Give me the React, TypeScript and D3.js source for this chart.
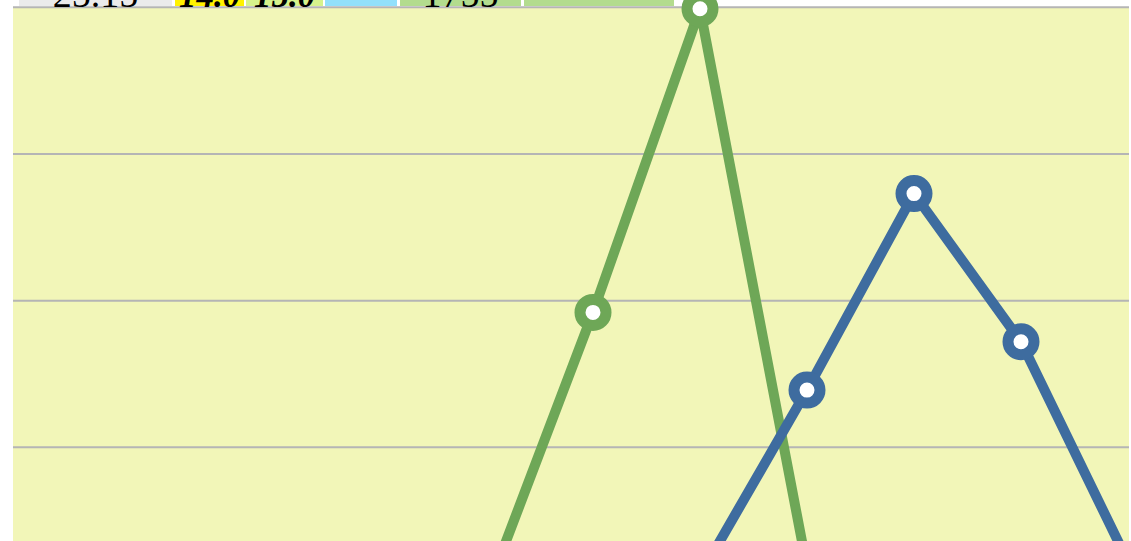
import React, { useEffect, useRef } from 'react'
import * as d3 from 'd3'

const W = 1131
const H = 541

// category slots (index along x)
const greenIdx = [0, 1, 2, 3]
const greenVals = [0, 19.2, 39.9, 1.8]
const blueIdx = [2, 3, 4, 5, 6]
const blueVals = [1.25, 13.9, 27.3, 17.2, 2.2]
const yTicks = [0, 10, 20, 30, 40]

// header table row, clipped at the top of the picture
const cellTexts = ['25.15', '14.0', '15.0', '', '1755', '']
const cellFills = ['#ebebeb', '#fff200', '#d6f28c', '#92e0fb', '#b3dc8e', '#b3dc8e']
const cellBold = [false, true, true, false, false, false]
const cellEdges = [19, 172, 175, 244, 246, 323, 325, 397, 400, 521, 524, 674]

const plot = { left: 13, right: 1129, top: 7.3 }

export default function App() {
  const svgRef = useRef<SVGSVGElement>(null)

  useEffect(() => {
    const svg = d3.select(svgRef.current)
    svg.selectAll('*').remove()

    const x = d3.scaleLinear().domain([0, 6]).range([486, 1128])
    const y = d3.scaleLinear().domain([0, 40]).range([594, plot.top])

    svg.append('rect')
      .attr('x', plot.left).attr('y', plot.top)
      .attr('width', plot.right - plot.left).attr('height', H)
      .attr('fill', '#f2f6b8')

    svg.append('g').selectAll('line').data(yTicks).enter()
      .append('line')
      .attr('x1', plot.left).attr('x2', plot.right)
      .attr('y1', d => y(d)).attr('y2', d => y(d))
      .attr('stroke', '#b5b5b5').attr('stroke-width', 2)

    const series = [
      { idx: greenIdx, vals: greenVals, color: '#6ea757' },
      { idx: blueIdx, vals: blueVals, color: '#3e6c9f' },
    ]

    series.forEach(s => {
      const pts = s.idx.map((k, i) => [x(k), y(s.vals[i])] as [number, number])
      svg.append('path')
        .attr('d', d3.line()(pts))
        .attr('fill', 'none')
        .attr('stroke', s.color)
        .attr('stroke-width', 10)
        .attr('stroke-linejoin', 'round')
      svg.append('g').selectAll('circle').data(pts).enter()
        .append('circle')
        .attr('cx', d => d[0]).attr('cy', d => d[1])
        .attr('r', 13)
        .attr('fill', '#fff')
        .attr('stroke', s.color)
        .attr('stroke-width', 11)
    })

    const cells = svg.append('g')
    cellTexts.forEach((t, i) => {
      const x0 = cellEdges[i * 2]
      const x1 = cellEdges[i * 2 + 1]
      cells.append('rect')
        .attr('x', x0).attr('y', -40)
        .attr('width', x1 - x0).attr('height', 46)
        .attr('fill', cellFills[i])
      if (t) {
        cells.append('text')
          .attr('x', (x0 + x1) / 2).attr('y', 6.5)
          .attr('text-anchor', 'middle')
          .attr('font-family', '"Liberation Serif", "Times New Roman", serif')
          .attr('font-size', cellBold[i] ? 35 : 38)
          .attr('font-weight', cellBold[i] ? 'bold' : 'normal')
          .attr('font-style', cellBold[i] ? 'italic' : 'normal')
          .attr('fill', '#000')
          .text(t)
      }
    })
  }, [])

  return (
    <svg
      ref={svgRef}
      width={W}
      height={H}
      style={{ position: 'absolute', left: 0, top: 0, overflow: 'hidden' }}
    />
  )
}
